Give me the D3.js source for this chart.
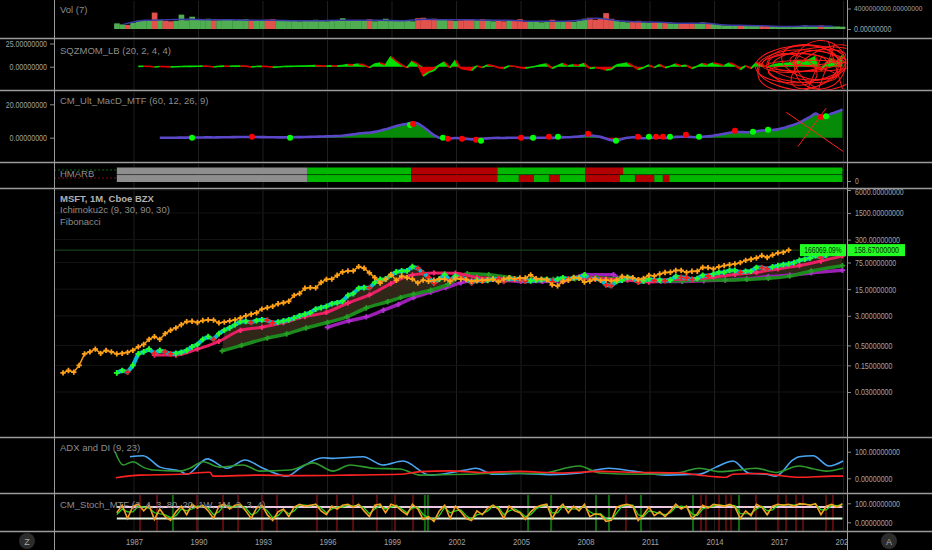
<!DOCTYPE html>
<html><head><meta charset="utf-8">
<script src="https://cdn.jsdelivr.net/npm/d3@7"></script>
<style>
html,body{margin:0;padding:0;background:#000;}
svg{display:block;}
</style></head><body>
<svg id="c" width="932" height="550"></svg>
<script>
// ---------------- DATA ----------------
const startYear = 1986; // first quarter of data (quarterly samples)
const yearTicks = [1987,1990,1993,1996,1999,2002,2005,2008,2011,2014,2017,2020];
const mainTicks = [6000,1500,300,75,15,3,0.5,0.15,0.03];
const volTicks = [0,4];       // billions
const sqzTicks = [0,25];
const macdTicks = [0,20];
const adxTicks = [0,100];
const stoTicks = [0,100];
const hmTicks = [0];

const closeQ = [0.0955,0.11,0.10,0.15, 0.30,0.34,0.40,0.31, 0.37,0.34,0.30,0.31, 0.33,0.37,0.46,0.53,
 0.72,0.85,0.72,1.02, 1.25,1.45,1.75,2.10, 2.15,2.00,2.25,2.35, 2.30,1.95,2.05,2.20,
 2.35,2.65,3.00,3.30, 3.60,4.50,4.90,5.30, 6.20,6.60,7.20,10.3, 11.5,15.8,16.5,16.2,
 22.4,27.1,27.5,34.7, 42.4,45.1,45.3,58.4, 53.1,40.0,30.2,21.7, 27.3,36.5,25.6,33.1,
 30.2,27.4,21.9,25.9, 24.2,25.6,27.8,27.4, 23.9,28.6,27.7,26.7, 24.2,24.8,25.7,26.2,
 27.2,23.3,27.4,29.9, 27.9,29.5,29.5,35.6, 28.4,27.5,26.7,19.4, 18.4,23.8,25.7,30.5,
 29.3,23.0,24.5,27.9, 25.4,26.0,24.9,26.0, 32.3,30.6,29.8,26.7, 28.6,34.5,33.3,37.4,
 41.0,41.7,46.4,46.5, 41.3,44.2,44.3,55.5, 55.2,51.2,57.6,62.1, 65.9,68.9,74.5,85.5,
 91.3,98.6,114.4,101.6, 117.9,134.0,139.0,158.67];
const changeLabel = "166069.09%";
const laggingShift = 2.5; // years (30 months)

const kijunStart = 1987;
const kijunV = [0.28,0.28,0.40,0.64,1.24,1.5,2.0,2.85,3.7,6.5,10.6,21,35.5,40,39.5,30.5,28.5,25.5,26.5,26,29.5,27.5,26,23,27,27.5,31,36.5,41.5,51,62.5,82,112];

const spanGreenT = [1991.1,1992.0,1993.2,1994.1,1995.0,1996.0,1996.9,1997.8,1998.8,1999.4,2000.0,2000.8,2001.6,2002.5,2003.5,2004.5,2005.5,2006.5,2007.5,2008.5,2009.5,2010.5,2011.5,2012.5,2013.5,2014.5,2015.5,2016.5,2017.5,2018.5,2019.95];
const spanGreenV = [0.36,0.5,0.78,1.0,1.43,2.0,2.8,4.8,7.0,9.0,11.0,14.0,20,38,36,30,27,27,28,30,28,26,25,25,26,26,27,29,33,45,62];
const spanPurpleT = [1996.0,1997.0,1997.8,1998.6,1999.3,2000.0,2000.8,2001.5,2002.2,2003.0,2004.0,2005.0,2006.0,2007.0,2008.0,2009.3,2009.6,2010.5,2011.5,2012.5,2013.5,2014.5,2015.5,2016.5,2017.5,2018.5,2019.95];
const spanPurpleV = [1.5,2.2,2.8,4.2,6.0,9.0,12.5,16.4,22,26,26,24,24,25,36,36,27,25,24,24,25,26,28,32,35,40,47];

const volQ = [1.1,0.9,0.8,1.2, 1.6,1.7,1.6,3.2, 1.8,1.6,1.5,1.6, 2.8,1.7,2.4,1.9, 1.8,2.0,1.7,1.7,
 1.8,1.9,1.7,1.8, 1.9,1.7,1.6,1.7, 1.8,1.9,1.6,1.6, 1.7,1.6,1.5,1.6, 1.7,1.8,1.6,1.5,
 1.6,1.7,2.1,1.6, 1.7,1.6,1.7,1.9, 1.5,1.6,2.0,1.7, 1.6,1.7,1.6,1.5, 2.1,2.2,1.8,2.0,
 1.9,1.8,1.7,1.6, 1.7,1.8,1.9,1.7, 1.9,1.8,1.5,1.6, 1.5,1.6,1.7,1.9, 1.4,1.5,1.4,1.3,
 1.4,1.8,1.5,1.4, 1.5,1.4,1.6,2.0, 2.2,1.8,2.0,3.1, 2.0,1.6,1.4,1.3, 1.4,1.6,1.3,1.2,
 1.3,1.2,1.3,1.1, 1.1,1.0,1.0,1.2, 1.1,1.3,1.2,1.0, 0.9,0.7,0.7,0.7, 0.7,0.6,0.7,0.6,
 0.6,0.6,0.5,0.5, 0.5,0.5,0.4,0.5, 0.7,0.5,0.5,0.7, 0.6,0.5,0.5,0.45];
const volMAStart = 1986;
const volMA = [0.9,1.7,1.8,1.9,1.8,1.8,1.7,1.7,1.6,1.6,1.7,1.7,1.7,1.6,1.9,1.8,1.8,1.7,1.7,1.5,1.5,1.6,2.1,1.6,1.4,1.3,1.1,1.1,0.8,0.7,0.6,0.5,0.6,0.55];

const sqzQ = [null,null,null,null, 0.3,0.5,0.4,-0.3, 0.2,0.1,-0.2,-0.1, 0.2,0.3,0.4,0.5, 0.6,0.5,-0.3,0.4,
 0.6,0.5,0.7,0.8, 0.6,-0.3,0.3,0.4, 0.2,-0.5,-0.3,0.2, 0.3,0.5,0.7,0.8, 1.0,1.2,0.9,0.6,
 1.0,0.8,1.3,2.2, 2.0,3.0,2.0,-1.0, 3.0,4.0,2.0,11.0, 6.0,2.0,-1.0,6.0, 3.0,-10.0,-6.0,-4.0,
 2.0,5.0,-1.0,7.0, -2.0,-3.0,-4.0,1.0, -1.0,2.0,1.0,-1.0, -2.0,1.0,0.5,-1.0, -1.5,-0.5,0.5,2.0,
 3.0,-2.0,1.0,3.5, 1.0,2.0,1.5,3.5, -2.0,-1.0,-2.0,-3.5, -3.0,2.0,3.0,4.0, 1.0,-3.0,-1.0,2.0,
 -1.0,2.5,-1.0,0.5, 3.0,1.0,1.5,-2.0, 0.5,3.5,2.0,4.0, 3.0,1.0,4.0,2.0, -3.0,1.0,-2.0,4.5,
 3.0,-1.0,2.0,3.0, 3.5,4.0,5.0,7.0, 6.0,8.0,11.0,-4.0, 4.0,9.0,6.0,12.0];
// hand-drawn annotation ellipses: [centerYear, centerValue, radiusYears, radiusValue, tiltDeg]
const sqzScribbles = [[2018.0,3,2.1,20,-4],[2018.2,0,1.7,14,6],[2017.9,-2,1.9,24,-10],[2018.5,5,1.4,18,12],
 [2018.3,-4,2.3,22,3],[2018.9,2,1.2,26,-18],[2017.7,4,1.5,10,-3],[2019.2,-6,1.5,20,25],[2018.6,8,1.9,12,-8],
 [2018.1,-8,1.6,9,4],[2018.8,10,1.3,8,-6],[2017.6,-3,1.2,16,15],[2019.0,0,1.6,17,-30],[2018.4,1,2.0,6,0]];
const sqzStrokes = [[[2018.8,-27],[2019.6,25]],[[2019.3,27],[2019.95,-24]],[[2018.3,-26],[2019.0,12]]];

const macdQ = [null,null,null,null, null,null,null,null, 0.0,0.0,0.0,0.0, 0.05,0.05,0.1,0.1,
 0.15,0.2,0.15,0.2, 0.25,0.3,0.35,0.4, 0.45,0.4,0.4,0.35, 0.3,0.25,0.2,0.2, 0.25,0.3,0.35,0.4,
 0.5,0.6,0.7,0.8, 0.9,1.0,1.2,1.6, 2.0,2.5,2.8,3.0, 3.5,4.2,5.0,6.0, 7.0,7.8,8.3,9.0,
 8.5,6.5,4.0,1.5, 0.0,-0.3,-0.5,-0.2, -0.3,-0.6,-1.0,-0.8, -0.6,-0.4,-0.2,-0.1, -0.2,0.0,0.0,0.0,
 -0.1,-0.1,0.0,0.0, 0.0,-0.1,0.0,0.2, 0.3,0.5,0.7,1.2, 1.4,1.0,0.5,-0.5, -1.5,-1.6,-0.8,0.0,
 0.3,0.0,-0.3,0.0, 0.0,0.0,-0.1,0.0, 0.5,0.6,0.6,0.4, 0.3,0.6,0.8,1.2, 1.8,2.3,3.0,3.5,
 3.4,3.3,3.2,3.8, 4.3,4.3,4.6,5.0, 5.8,6.8,7.8,9.0, 10.8,12.5,14.5,13.0, 13.0,14.5,15.5,17.0];
const macdDotT = [1989.70,1992.49,1994.26,1999.84,1999.98,2001.37,2001.60,2002.26,2002.91,2003.14,2005.0,2005.56,2006.30,2006.72,2008.12,2009.42,2010.44,2010.95,2011.28,2011.60,2011.93,2012.67,2013.28,2014.95,2015.79,2016.49,2018.95,2019.19];
const macdDotV = [0,0.6,0,7.6,8.2,0,-0.6,-0.6,-1.2,-1.8,0,0,0.6,0.6,2.4,-1.8,0.6,0.6,0.6,0.6,0.6,1.8,0.6,4.1,3.5,4.7,12.4,12.9];
const macdDotC = ["g","r","g","g","r","g","r","r","r","g","r","g","r","g","r","g","r","g","r","r","g","r","g","r","g","g","r","g"];
const macdMarks = [[[2017.33,15.3],[2019.98,-8.2]],[[2017.88,-5.3],[2019.19,17.6]]];

const hmRows = ["top","bottom"];
const hmTop = [[1986.2,1995.05,"gray"],[1995.05,1999.9,"green"],[1999.9,2003.9,"red"],[2003.9,2008.0,"green"],[2008.0,2009.75,"red"],[2009.75,2019.95,"green"]];
const hmBottom = [[1986.2,1995.05,"gray"],[1995.05,1999.9,"green"],[1999.9,2003.9,"red"],[2003.9,2004.9,"green"],[2004.9,2005.6,"red"],[2005.6,2006.3,"green"],[2006.3,2006.8,"red"],[2006.8,2008.0,"green"],[2008.0,2009.6,"red"],[2009.6,2010.3,"green"],[2010.3,2011.2,"red"],[2011.2,2011.6,"green"],[2011.6,2011.9,"red"],[2011.9,2019.95,"green"]];

const adxT = [1986.81,1987.42,1988.21,1989.14,1989.47,1990.40,1991.33,1992.16,1993.0,1994.12,1994.72,1995.79,1996.26,1997.65,1998.58,1999.51,2000.77,2002.44,2002.91,2003.70,2004.95,2006.35,2007.74,2009.09,2010.21,2011.74,2013.28,2014.07,2014.67,2014.86,2015.60,2016.40,2016.86,2017.65,2017.93,2018.58,2019.33,2019.98];
const adxV = [81,85,42,27,15,73,38,69,38,8,38,77,75,81,50,65,12,31,38,15,18,14,20,38,27,12,15,42,62,65,19,15,8,69,81,85,46,65];
const pdiT = [1986.12,1986.49,1986.95,1987.42,1987.88,1989.14,1989.60,1990.21,1991.0,1992.07,1992.86,1994.26,1995.33,1996.26,1997.05,1998.12,1999.37,2000.30,2002.44,2004.02,2005.88,2007.70,2008.67,2010.53,2012.40,2013.28,2014.26,2015.14,2015.93,2016.86,2017.93,2018.58,2019.19,2019.98];
const pdiV = [100,50,62,42,31,27,38,62,42,50,27,31,58,27,50,38,35,12,15,20,18,46,20,15,22,38,25,31,38,22,46,36,27,38];
const mdiT = [1986.16,1987.28,1989.14,1990.53,1990.67,1992.86,1994.72,1997.05,1999.37,2000.30,2001.70,2003.09,2004.95,2006.81,2008.67,2010.53,2012.40,2013.28,2014.53,2014.86,2016.12,2016.86,2017.93,2019.51,2019.98];
const mdiV = [2,12,15,23,8,12,10,12,15,25,28,22,26,20,26,22,20,12,4,15,18,12,4,8,8];

const stochK = [50,90,20,85, 95,60,90,15, 70,30,10,55, 85,40,95,75, 90,60,20,85, 95,70,90,95, 60,20,75,90, 40,10,55,70,
 30,80,95,85, 90,95,60,40, 85,70,90,95, 80,95,60,30, 90,95,50,95, 85,60,40,95, 70,15,30,5, 60,90,20,85,
 55,20,10,60, 40,75,90,70, 20,85,60,50, 15,55,80,90, 95,20,70,95, 50,85,60,95, 30,45,40,5, 10,80,90,95,
 85,10,40,80, 35,55,30,60, 95,70,85,20, 45,90,75,95, 90,85,95,80, 20,60,35,95, 80,40,85,95, 90,95,85,98,
 95,90,98,40, 85,95,80,98];
const stochD = [40,70,55,55, 85,80,75,50, 45,40,25,35, 70,60,70,85, 85,75,40,55, 90,85,80,90, 75,40,50,85, 60,25,35,65,
 45,60,90,90, 85,95,75,50, 70,80,80,90, 85,90,75,45, 70,90,70,80, 90,70,50,75, 80,40,25,15, 35,80,50,60,
 65,35,15,40, 45,60,85,80, 40,60,70,55, 30,40,70,85, 90,50,50,85, 70,70,70,85, 55,40,45,20, 10,50,85,90,
 90,40,30,60, 55,45,40,50, 80,85,80,45, 35,70,80,85, 92,88,90,88, 45,45,45,70, 85,60,65,90, 92,93,90,93,
 96,92,95,65, 65,90,88,92];
const stoLevels = [80,20];
const stoRedBars = [1987.28,1988.07,1989.93,1991.14,1991.84,1992.95,1993.65,1995.51,1996.44,1997.19,1998.30,1999.14,1999.98,2009.88,2013.37,2013.60,2014.21,2014.53,2014.77,2015.93,2016.95,2017.33,2017.79,2018.12,2019.19,2019.51];
const stoGreenBars = [1988.81,2000.53,2000.67,2005.33,2006.40,2008.49,2009.09,2010.58,2013.0,2015.14];

// ---------------- LAYOUT ----------------
const W=932,H=550,L=54,R=847;
const FONT='"Liberation Sans",Arial,sans-serif';
const CHARW = 3.75; // compressed width per character for numeric labels
const panels = {vol:[0,38], sqz:[39,90], macd:[91,162], hm:[163,188], main:[189,437], adx:[438,493], sto:[494,531]};
const qT = i => startYear + i/4 + 0.2;

const svg = d3.select("#c");
svg.append("rect").attr("width",W).attr("height",H).attr("fill","#000");
const defs = svg.append("defs");
Object.entries(panels).forEach(([k,[a,b]])=>{
  defs.append("clipPath").attr("id","clip-"+k).append("rect")
    .attr("x",L+0.5).attr("y",a+1).attr("width",R-L-1).attr("height",b-a-1);
});
defs.append("clipPath").attr("id","clip-axis").append("rect").attr("x",L).attr("y",532).attr("width",R-L).attr("height",18);

const x = d3.scaleLinear().domain([1987,2020]).range([134,843.5]);
const yVol = d3.scaleLinear().domain([0,4]).range([29,8.5]);
const ySqz = d3.scaleLinear().domain([0,25]).range([66.7,43.5]);
const yMacd = d3.scaleLinear().domain([0,20]).range([137.7,104.3]);
const yHm = d3.scaleLinear().domain([0,1]).range([181,167]);
const hmBand = d3.scaleBand().domain(hmRows).range([167.5,182]).paddingInner(0.08);
const yMain = d3.scaleLog().domain([0.03,6000]).range([392,190]);
const yAdx = d3.scaleLinear().domain([0,100]).range([478.3,451.7]);
const ySto = d3.scaleLinear().domain([0,100]).range([522.3,503.3]);

const P = {};
Object.keys(panels).forEach(k=>{ P[k] = svg.append("g").attr("clip-path",`url(#clip-${k})`); });

// grid
Object.entries(panels).forEach(([k,[a,b]])=>{
  P[k].selectAll(null).data(yearTicks).join("line")
    .attr("x1",d=>x(d)).attr("x2",d=>x(d)).attr("y1",a).attr("y2",b)
    .attr("stroke","#1f1f1f").attr("stroke-width",1);
});
P.main.selectAll(null).data(mainTicks).join("line")
  .attr("x1",L).attr("x2",R).attr("y1",d=>yMain(d)).attr("y2",d=>yMain(d))
  .attr("stroke","#141414");

function crosses(g, pts, color, size){
  const p = d3.symbol().type(d3.symbolCross).size(size||14)();
  g.append("g").selectAll("path").data(pts).join("path").attr("d",p)
    .attr("transform",d=>`translate(${d[0]},${d[1]})`).attr("fill",color);
}

// ---------------- VOLUME ----------------
const qw = x(1.25)-x(1);
P.vol.selectAll(null).data(volQ).join("rect")
  .attr("x",(d,i)=>x(qT(i))-qw/2).attr("width",qw+0.3)
  .attr("y",d=>yVol(d)).attr("height",d=>yVol(0)-yVol(d))
  .attr("fill",(d,i)=> (i===0 || closeQ[i]>=closeQ[i-1]) ? "#4fae52" : "#e0524b");
P.vol.append("path").datum(volMA)
  .attr("d",d3.line().x((d,i)=>x(volMAStart+i+0.5)).y(d=>yVol(d)).curve(d3.curveMonotoneX))
  .attr("fill","none").attr("stroke","#3a3aa6").attr("stroke-width",1.5);

// ---------------- SQZMOM ----------------
const sqzPts = sqzQ.map((v,i)=>({t:qT(i),v})).filter(d=>d.v!==null);
P.sqz.append("path").datum(sqzPts)
  .attr("d",d3.area().x(d=>x(d.t)).y0(ySqz(0)).y1(d=>ySqz(Math.max(d.v,0))))
  .attr("fill","#00e000");
P.sqz.append("path").datum(sqzPts)
  .attr("d",d3.area().x(d=>x(d.t)).y0(ySqz(0)).y1(d=>ySqz(Math.min(d.v,0))))
  .attr("fill","#e00000");
for(let i=1;i<sqzPts.length;i++){
  const a=sqzPts[i-1], b=sqzPts[i];
  P.sqz.append("line").attr("x1",x(a.t)).attr("y1",ySqz(a.v)).attr("x2",x(b.t)).attr("y2",ySqz(b.v))
    .attr("stroke", b.v>=a.v ? "#00e000" : "#e00000").attr("stroke-width",1.6);
}
P.sqz.selectAll(null).data(sqzScribbles).join("ellipse")
  .attr("cx",d=>x(d[0])).attr("cy",d=>ySqz(d[1]))
  .attr("rx",d=>x(d[0]+d[2])-x(d[0])).attr("ry",d=>ySqz(0)-ySqz(d[3]))
  .attr("transform",d=>`rotate(${d[4]},${x(d[0])},${ySqz(d[1])})`)
  .attr("fill","none").attr("stroke","#ff1a1a").attr("stroke-width",1);
P.sqz.selectAll(null).data(sqzStrokes).join("line")
  .attr("x1",d=>x(d[0][0])).attr("y1",d=>ySqz(d[0][1])).attr("x2",d=>x(d[1][0])).attr("y2",d=>ySqz(d[1][1]))
  .attr("stroke","#ff1a1a").attr("stroke-width",1);

// ---------------- MACD ----------------
const macdPts = macdQ.map((v,i)=>({t:qT(i),v})).filter(d=>d.v!==null);
P.macd.append("path").datum(macdPts)
  .attr("d",d3.area().x(d=>x(d.t)).y0(yMacd(0)).y1(d=>yMacd(Math.max(d.v,0))))
  .attr("fill","#078a07");
P.macd.append("path").datum(macdPts)
  .attr("d",d3.area().x(d=>x(d.t)).y0(yMacd(0)).y1(d=>yMacd(Math.min(d.v,0))))
  .attr("fill","#d00000");
P.macd.append("path").datum(macdPts)
  .attr("d",d3.line().x(d=>x(d.t)).y(d=>yMacd(d.v)).curve(d3.curveMonotoneX))
  .attr("fill","none").attr("stroke","#5a48c8").attr("stroke-width",2.6);
P.macd.selectAll(null).data(macdMarks).join("line")
  .attr("x1",d=>x(d[0][0])).attr("y1",d=>yMacd(d[0][1])).attr("x2",d=>x(d[1][0])).attr("y2",d=>yMacd(d[1][1]))
  .attr("stroke","#ff2020").attr("stroke-width",1);
P.macd.selectAll(null).data(macdDotT).join("circle")
  .attr("cx",d=>x(d)).attr("cy",(d,i)=>yMacd(macdDotV[i])).attr("r",3)
  .attr("fill",(d,i)=>macdDotC[i]==="g"?"#00ff00":"#ff0000");

// ---------------- HMARB ----------------
const hmColor = {gray:"#8e8e8e", green:"#00b800", red:"#b30000"};
P.hm.append("line").attr("x1",L).attr("x2",R).attr("y1",170).attr("y2",170).attr("stroke","#0a6a0a").attr("stroke-dasharray","2,2");
P.hm.append("line").attr("x1",L).attr("x2",R).attr("y1",178).attr("y2",178).attr("stroke","#7a1010").attr("stroke-dasharray","2,2");
[["top",hmTop],["bottom",hmBottom]].forEach(([row,segs])=>{
  P.hm.selectAll(null).data(segs).join("rect")
    .attr("x",d=>x(d[0])).attr("width",d=>x(d[1])-x(d[0]))
    .attr("y",hmBand(row)).attr("height",hmBand.bandwidth())
    .attr("fill",d=>hmColor[d[2]]);
});

// ---------------- MAIN ----------------
const last = closeQ[closeQ.length-1];
P.main.append("line").attr("x1",L).attr("x2",R).attr("y1",yMain(last)).attr("y2",yMain(last))
  .attr("stroke","#1d4d1d").attr("stroke-width",1);
const topPts = closeQ.map((v,i)=>[x(qT(i)),yMain(v)]).filter((p,i)=>qT(i)>=spanGreenT[0]);
const botPts = spanGreenT.map((t,i)=>[x(t),yMain(spanGreenV[i])]).reverse();
P.main.append("path").attr("d","M"+topPts.concat(botPts).map(p=>p.join(",")).join("L")+"Z")
  .attr("fill","#33291a").attr("opacity",0.95);
const purplePts = spanPurpleT.map((t,i)=>[x(t),yMain(spanPurpleV[i])]);
P.main.append("path").datum(purplePts).attr("d",d3.line().curve(d3.curveMonotoneX))
  .attr("fill","none").attr("stroke","#9c1fb5").attr("stroke-width",3.5);
crosses(P.main, purplePts, "#b030d0", 16);
const greenPts = spanGreenT.map((t,i)=>[x(t),yMain(spanGreenV[i])]);
P.main.append("path").datum(greenPts).attr("d",d3.line().curve(d3.curveMonotoneX))
  .attr("fill","none").attr("stroke","#1c8a1c").attr("stroke-width",3.5);
crosses(P.main, greenPts, "#25a025", 16);
const kijPts = kijunV.map((v,i)=>[x(kijunStart+i+0.95),yMain(v)]);
P.main.append("path").datum(kijPts).attr("d",d3.line().curve(d3.curveMonotoneX))
  .attr("fill","none").attr("stroke","#e91e63").attr("stroke-width",3);
crosses(P.main, kijPts, "#ff2a70", 16);
const pricePts = closeQ.map((v,i)=>[x(qT(i)),yMain(v)]);
P.main.append("path").datum(pricePts).attr("d",d3.line())
  .attr("fill","none").attr("stroke","#00bcd4").attr("stroke-width",4);
crosses(P.main, pricePts.filter((p,i)=>i===0||closeQ[i]>=closeQ[i-1]), "#22ff22", 18);
crosses(P.main, pricePts.filter((p,i)=>i>0&&closeQ[i]<closeQ[i-1]), "#ff1a1a", 18);
const lagPts = closeQ.map((v,i)=>[x(qT(i)-laggingShift),yMain(v)]);
P.main.append("path").datum(lagPts).attr("d",d3.line())
  .attr("fill","none").attr("stroke","#f59a12").attr("stroke-width",1.5);
crosses(P.main, lagPts, "#ffa21a", 16);

// ---------------- ADX ----------------
[[adxT,adxV,"#4aa6f2"],[pdiT,pdiV,"#2e9a2e"],[mdiT,mdiV,"#ff2222"]].forEach(([T,V,c])=>{
  P.adx.append("path").datum(T.map((t,i)=>[x(t),yAdx(V[i])]))
    .attr("d",d3.line().curve(d3.curveMonotoneX)).attr("fill","none").attr("stroke",c).attr("stroke-width",1.6);
});

// ---------------- STOCH ----------------
P.sto.selectAll(null).data(stoRedBars).join("rect")
  .attr("x",d=>x(d)-1).attr("width",2).attr("y",494).attr("height",37).attr("fill","#5a0b0b");
P.sto.selectAll(null).data(stoGreenBars).join("rect")
  .attr("x",d=>x(d)-1).attr("width",2).attr("y",494).attr("height",37).attr("fill","#0d6a0d");
P.sto.selectAll(null).data(stoLevels).join("line")
  .attr("x1",x(qT(0))).attr("x2",x(qT(closeQ.length-1)))
  .attr("y1",d=>ySto(d)).attr("y2",d=>ySto(d))
  .attr("stroke",(d,i)=>i===0?"#e9c7de":"#e4f2dc").attr("stroke-width",2);
P.sto.append("path").datum(stochD.map((v,i)=>[x(qT(i)),ySto(v)]))
  .attr("d",d3.line()).attr("fill","none").attr("stroke","#22dd22").attr("stroke-width",1.2);
P.sto.append("path").datum(stochK.map((v,i)=>[x(qT(i)),ySto(v)]))
  .attr("d",d3.line()).attr("fill","none").attr("stroke","#f5a020").attr("stroke-width",1.6);

// ---------------- AXES ----------------
function squeeze(sel, cw){
  sel.each(function(){ const t=this.textContent; d3.select(this).attr("textLength",t.length*(cw||CHARW)).attr("lengthAdjust","spacingAndGlyphs"); });
}
function styleAxis(g){
  g.select(".domain").remove();
  g.selectAll(".tick line").attr("stroke","#8a8a8a");
  g.selectAll(".tick text").attr("fill","#a3a3a3").attr("font-size",9).attr("font-family",FONT).call(squeeze);
}
const f8 = d=>(+d).toFixed(8);
svg.append("g").attr("transform",`translate(${R},0)`).call(d3.axisRight(yVol).tickValues(volTicks).tickFormat(d=>(d*1e9).toFixed(8)).tickSize(4).tickPadding(3)).call(styleAxis)
  .selectAll(".tick").filter(d=>d===volTicks[1]).select("text").attr("font-size",7.4).call(squeeze,3.6);
svg.append("g").attr("transform",`translate(${R},0)`).call(d3.axisRight(yHm).tickValues(hmTicks).tickFormat(d3.format("d")).tickSize(4).tickPadding(4)).call(styleAxis);
const mainAxis = svg.append("g").attr("transform",`translate(${R},0)`).call(d3.axisRight(yMain).tickValues(mainTicks).tickFormat(f8).tickSize(4).tickPadding(4)).call(styleAxis);
mainAxis.selectAll(".tick").filter(d=>d===mainTicks[0]).select("text").attr("y",2);
svg.append("g").attr("transform",`translate(${R},0)`).call(d3.axisRight(yAdx).tickValues(adxTicks).tickFormat(f8).tickSize(4).tickPadding(4)).call(styleAxis);
svg.append("g").attr("transform",`translate(${R},0)`).call(d3.axisRight(ySto).tickValues(stoTicks).tickFormat(f8).tickSize(4).tickPadding(4)).call(styleAxis);
svg.append("g").attr("transform",`translate(${L},0)`).call(d3.axisLeft(ySqz).tickValues(sqzTicks).tickFormat(f8).tickSize(4).tickPadding(3)).call(styleAxis);
svg.append("g").attr("transform",`translate(${L},0)`).call(d3.axisLeft(yMacd).tickValues(macdTicks).tickFormat(f8).tickSize(4).tickPadding(3)).call(styleAxis);
svg.append("g").attr("clip-path","url(#clip-axis)").append("g").attr("transform","translate(0,535)")
  .call(d3.axisBottom(x).tickValues(yearTicks).tickFormat(d3.format("d")).tickSize(0).tickPadding(3)).call(styleAxis)
  .selectAll(".tick text").attr("font-size",9.5).attr("textLength",17);

// price labels
const pl = svg.append("g");
pl.append("rect").attr("x",800).attr("y",yMain(last)-6).attr("width",46).attr("height",12).attr("fill","#22ff22");
pl.append("text").attr("x",823).attr("y",yMain(last)+3.3).attr("text-anchor","middle").attr("font-size",9).attr("font-family",FONT).attr("fill","#0b2a0b").text(changeLabel).call(squeeze);
pl.append("rect").attr("x",848).attr("y",yMain(last)-6).attr("width",57).attr("height",12).attr("fill","#22ff22");
pl.append("text").attr("x",876.5).attr("y",yMain(last)+3.3).attr("text-anchor","middle").attr("font-size",9).attr("font-family",FONT).attr("fill","#0b2a0b").text(last.toFixed(8)).call(squeeze);

// titles
const titles = [
  ["Vol (7)",13,"normal","#8c8c8c"],
  ["SQZMOM_LB (20, 2, 4, 4)",54,"normal","#8c8c8c"],
  ["CM_Ult_MacD_MTF (60, 12, 26, 9)",104,"normal","#8c8c8c"],
  ["HMARB",177,"normal","#8c8c8c"],
  ["MSFT, 1M, Cboe BZX",202,"bold","#b0b0b0"],
  ["Ichimoku2c (9, 30, 90, 30)",213,"normal","#8c8c8c"],
  ["Fibonacci",225,"normal","#8c8c8c"],
  ["ADX and DI (9, 23)",451,"normal","#8c8c8c"],
  ["CM_Stoch_MTF (2, 4, 3, 80, 20, 1W, 1M, 2, 3, 4)",508,"normal","#8c8c8c"]
];
svg.append("g").selectAll("text").data(titles).join("text")
  .attr("x",60).attr("y",d=>d[1]).attr("font-size",9.5).attr("font-family",FONT)
  .attr("font-weight",d=>d[2]).attr("fill",d=>d[3]).text(d=>d[0]);

// frame
const sepY = [38.5,90.5,162.5,188.5,437.5,493.5,531.5];
svg.append("g").selectAll("line").data(sepY).join("line")
  .attr("x1",0).attr("x2",W).attr("y1",d=>d).attr("y2",d=>d).attr("stroke","#9a9a9a").attr("stroke-width",1.4);
svg.append("line").attr("x1",L+0.5).attr("x2",L+0.5).attr("y1",0).attr("y2",H).attr("stroke","#9a9a9a");
svg.append("line").attr("x1",R+0.5).attr("x2",R+0.5).attr("y1",0).attr("y2",H).attr("stroke","#9a9a9a");

// buttons
[["Z",27],["A",889]].forEach(([t,cx])=>{
  svg.append("circle").attr("cx",cx).attr("cy",541).attr("r",8).attr("fill","#2c2c2c");
  svg.append("text").attr("x",cx).attr("y",544.5).attr("text-anchor","middle").attr("font-size",9).attr("font-family",FONT).attr("fill","#a8a8a8").text(t);
});
</script></body></html>
